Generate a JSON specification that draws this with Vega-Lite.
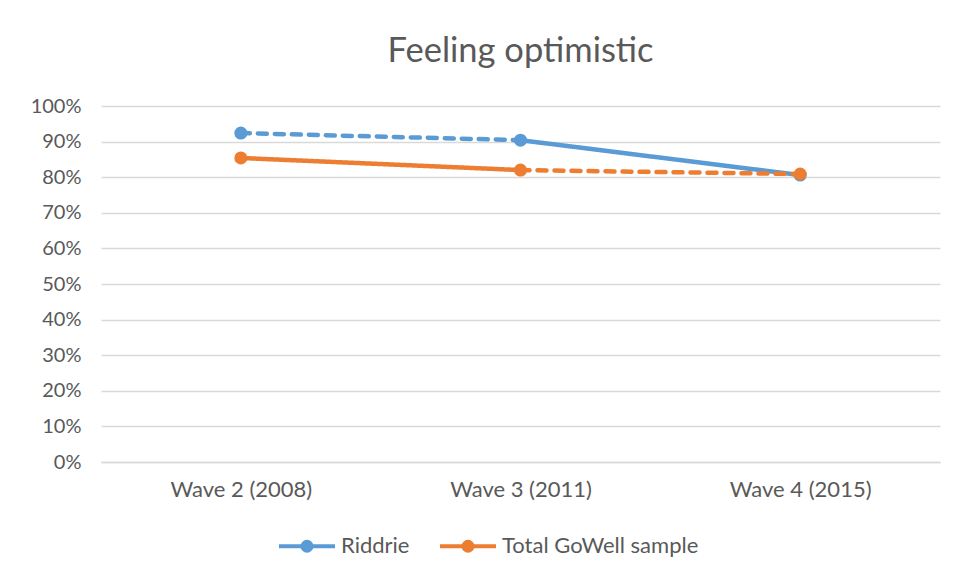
{
  "$schema": "https://vega.github.io/schema/vega-lite/v6.json",
  "width": 839,
  "height": 356,
  "padding": {"left": 30, "top": 33, "right": 16, "bottom": 0},
  "background": "white",
  "title": {
    "text": "Feeling optimistic",
    "fontSize": 34.5,
    "font": "Lato",
    "fontWeight": "normal",
    "color": "#595959",
    "offset": 27,
    "anchor": "middle"
  },
  "datasets": {
    "points": [
      {"series": "Riddrie", "wave": "Wave 2 (2008)", "value": 0.924},
      {"series": "Riddrie", "wave": "Wave 3 (2011)", "value": 0.904},
      {"series": "Riddrie", "wave": "Wave 4 (2015)", "value": 0.806},
      {"series": "Total GoWell sample", "wave": "Wave 2 (2008)", "value": 0.854},
      {"series": "Total GoWell sample", "wave": "Wave 3 (2011)", "value": 0.820},
      {"series": "Total GoWell sample", "wave": "Wave 4 (2015)", "value": 0.809}
    ],
    "segments": [
      {"series": "Riddrie", "seg": "R1", "style": "dashed", "wave": "Wave 2 (2008)", "value": 0.924},
      {"series": "Riddrie", "seg": "R1", "style": "dashed", "wave": "Wave 3 (2011)", "value": 0.904},
      {"series": "Riddrie", "seg": "R2", "style": "solid", "wave": "Wave 3 (2011)", "value": 0.904},
      {"series": "Riddrie", "seg": "R2", "style": "solid", "wave": "Wave 4 (2015)", "value": 0.806},
      {"series": "Total GoWell sample", "seg": "T1", "style": "solid", "wave": "Wave 2 (2008)", "value": 0.854},
      {"series": "Total GoWell sample", "seg": "T1", "style": "solid", "wave": "Wave 3 (2011)", "value": 0.820},
      {"series": "Total GoWell sample", "seg": "T2", "style": "dashed", "wave": "Wave 3 (2011)", "value": 0.820},
      {"series": "Total GoWell sample", "seg": "T2", "style": "dashed", "wave": "Wave 4 (2015)", "value": 0.809}
    ]
  },
  "encoding": {
    "x": {
      "field": "wave",
      "type": "ordinal",
      "sort": null,
      "scale": {"type": "point", "padding": 0.5},
      "axis": {
        "title": null,
        "labelAngle": 0,
        "labelFontSize": 22,
        "labelFont": "Lato",
        "labelColor": "#595959",
        "labelPadding": 17,
        "ticks": false,
        "domain": true,
        "domainColor": "#d9d9d9",
        "domainWidth": 1.3,
        "grid": false
      }
    },
    "y": {
      "field": "value",
      "type": "quantitative",
      "scale": {"domain": [0, 1]},
      "axis": {
        "title": null,
        "format": ".0%",
        "values": [0, 0.1, 0.2, 0.3, 0.4, 0.5, 0.6, 0.7, 0.8, 0.9, 1],
        "labelOverlap": false,
        "labelFlush": false,
        "labelFontSize": 20,
        "labelFont": "Lato",
        "labelColor": "#595959",
        "labelPadding": 20,
        "ticks": false,
        "domain": false,
        "gridColor": "#d9d9d9",
        "gridWidth": 1.3,
        "minExtent": 66,
        "maxExtent": 66
      }
    },
    "color": {
      "field": "series",
      "type": "nominal",
      "scale": {
        "domain": ["Riddrie", "Total GoWell sample"],
        "range": ["#5B9BD5", "#ED7D31"]
      },
      "legend": {
        "title": null,
        "orient": "none",
        "legendX": 176,
        "legendY": 410,
        "direction": "horizontal",
        "labelFontSize": 22,
        "labelFont": "Lato",
        "labelColor": "#595959",
        "labelLimit": 400,
        "symbolType": "M-1,0L1,0M0.16,0A0.16,0.16,0,1,1,-0.16,0A0.16,0.16,0,1,1,0.16,0",
        "symbolSize": 3136,
        "symbolStrokeWidth": 4,
        "labelOffset": 4,
        "columnPadding": 22
      }
    }
  },
  "layer": [
    {
      "data": {"name": "segments"},
      "mark": {"type": "line", "strokeWidth": 4.5, "strokeCap": "round"},
      "encoding": {
        "detail": {"field": "seg"},
        "strokeDash": {
          "field": "style",
          "type": "nominal",
          "scale": {"domain": ["solid", "dashed"], "range": [[1, 0], [9, 8]]},
          "legend": null
        }
      }
    },
    {
      "data": {"name": "points"},
      "mark": {"type": "point", "filled": true, "opacity": 1, "size": 170}
    }
  ],
  "config": {
    "view": {"stroke": null},
    "font": "Lato"
  }
}
